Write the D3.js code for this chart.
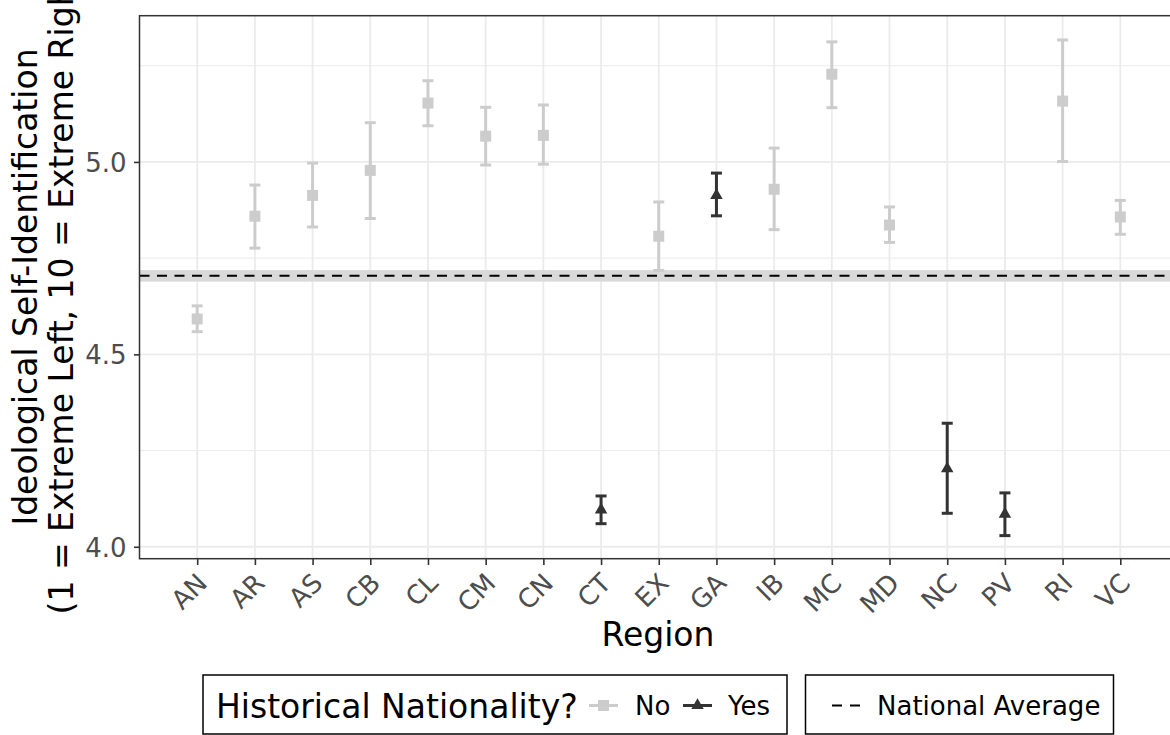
<!DOCTYPE html>
<html>
<head>
<meta charset="utf-8">
<script src="https://cdn.jsdelivr.net/npm/d3@7"></script>
<style>
  body { margin: 0; background: #fff; }
  text { font-family: "DejaVu Sans", sans-serif; }
</style>
</head>
<body>
<div id="chart"></div>
<script>
// chart size
var width = 1170;
var height = 735;

// data
var regions = ["AN","AR","AS","CB","CL","CM","CN","CT","EX","GA","IB","MC","MD","NC","PV","RI","VC"];
var historical = ["No","No","No","No","No","No","No","Yes","No","Yes","No","No","No","Yes","Yes","No","No"];
var means = [4.592,4.859,4.913,4.978,5.153,5.067,5.069,4.096,4.807,4.913,4.929,5.228,4.836,4.203,4.085,5.158,4.857];
var lower = [4.559,4.776,4.831,4.853,5.094,4.992,4.994,4.060,4.718,4.860,4.824,5.141,4.791,4.087,4.029,5.001,4.812];
var upper = [4.626,4.940,4.997,5.102,5.211,5.142,5.148,4.132,4.896,4.971,5.036,5.312,4.883,4.321,4.140,5.317,4.900];
var yTicks = [4.0, 4.5, 5.0];
var yMinor = [4.25, 4.75, 5.25];
var nationalAverage = 4.704;
var nationalBand = [4.689, 4.719];
var groups = ["No", "Yes"];
var groupColors = ["#cccccc", "#333333"];

var rows = regions.map(function(r, i) {
  return {region: r, group: historical[i], mean: means[i], lo: lower[i], hi: upper[i]};
});

// panel (right edge runs past the picture, as in the reference)
var panel = {left: 139.5, top: 15.7, right: 1178, bottom: 558.7};

var x = d3.scalePoint()
  .domain(regions)
  .range([panel.left, panel.right])
  .padding(1);

var y = d3.scaleLinear()
  .domain([3.969, 5.380])
  .range([panel.bottom, panel.top]);

var color = d3.scaleOrdinal().domain(groups).range(groupColors);

const svg = d3.select("#chart")
  .append("svg")
  .attr("width", width)
  .attr("height", height);

svg.append("rect").attr("width", width).attr("height", height).attr("fill", "#fff");

// grid
svg.selectAll("line.minor")
  .data(yMinor)
  .enter()
  .append("line")
  .attr("x1", panel.left).attr("x2", panel.right)
  .attr("y1", d => y(d)).attr("y2", d => y(d))
  .attr("stroke", "#ebebeb")
  .attr("stroke-width", 1);

svg.selectAll("line.hmajor")
  .data(yTicks)
  .enter()
  .append("line")
  .attr("x1", panel.left).attr("x2", panel.right)
  .attr("y1", d => y(d)).attr("y2", d => y(d))
  .attr("stroke", "#ebebeb")
  .attr("stroke-width", 1.8);

svg.selectAll("line.vmajor")
  .data(regions)
  .enter()
  .append("line")
  .attr("x1", d => x(d)).attr("x2", d => x(d))
  .attr("y1", panel.top).attr("y2", panel.bottom)
  .attr("stroke", "#ebebeb")
  .attr("stroke-width", 1.8);

// national average band + dashed line
svg.append("rect")
  .attr("x", panel.left)
  .attr("width", panel.right - panel.left)
  .attr("y", y(nationalBand[1]))
  .attr("height", y(nationalBand[0]) - y(nationalBand[1]))
  .attr("fill", "#d9d9d9");

svg.append("line")
  .attr("x1", panel.left).attr("x2", panel.right)
  .attr("y1", y(nationalAverage)).attr("y2", y(nationalAverage))
  .attr("stroke", "#000")
  .attr("stroke-width", 2)
  .attr("stroke-dasharray", "10,7.5");

// error bars
var capW = 5.5;
var bars = svg.selectAll("g.bar")
  .data(rows)
  .enter()
  .append("g")
  .attr("stroke", d => color(d.group))
  .attr("stroke-width", 3);

bars.append("line")
  .attr("x1", d => x(d.region)).attr("x2", d => x(d.region))
  .attr("y1", d => y(d.hi)).attr("y2", d => y(d.lo));
bars.append("line")
  .attr("x1", d => x(d.region) - capW).attr("x2", d => x(d.region) + capW)
  .attr("y1", d => y(d.hi)).attr("y2", d => y(d.hi));
bars.append("line")
  .attr("x1", d => x(d.region) - capW).attr("x2", d => x(d.region) + capW)
  .attr("y1", d => y(d.lo)).attr("y2", d => y(d.lo));

// point shapes: square for No, triangle for Yes
function shapePath(group, cx, cy) {
  if (group === "No") {
    var s = 5.5;
    return "M" + (cx - s) + "," + (cy - s) + "h" + (2 * s) + "v" + (2 * s) + "h" + (-2 * s) + "Z";
  }
  var side = 12.5, h = side * Math.sqrt(3) / 2;
  return "M" + cx + "," + (cy - 2 * h / 3) +
    "L" + (cx + side / 2) + "," + (cy + h / 3) +
    "L" + (cx - side / 2) + "," + (cy + h / 3) + "Z";
}

svg.selectAll("path.pt")
  .data(rows)
  .enter()
  .append("path")
  .attr("d", d => shapePath(d.group, x(d.region), y(d.mean)))
  .attr("fill", d => color(d.group));

// panel border
svg.append("rect")
  .attr("x", panel.left).attr("y", panel.top)
  .attr("width", panel.right - panel.left)
  .attr("height", panel.bottom - panel.top)
  .attr("fill", "none")
  .attr("stroke", "#333")
  .attr("stroke-width", 1.5);

// axes
var yAxis = svg.append("g")
  .attr("transform", "translate(" + panel.left + ",0)")
  .call(d3.axisLeft(y).tickValues(yTicks).tickFormat(d3.format(".1f")).tickSize(5.5).tickPadding(7.5));
yAxis.select(".domain").remove();
yAxis.selectAll(".tick line").attr("stroke", "#333").attr("stroke-width", 1.6);
yAxis.selectAll(".tick text")
  .attr("fill", "#4d4d4d")
  .style("font-size", "26px")
  .attr("dy", "0.36em");

var xAxis = svg.append("g")
  .attr("transform", "translate(0," + panel.bottom + ")")
  .call(d3.axisBottom(x).tickSize(6.3).tickPadding(0));
xAxis.select(".domain").remove();
xAxis.selectAll(".tick line").attr("stroke", "#333").attr("stroke-width", 1.6);
xAxis.selectAll(".tick text")
  .attr("fill", "#4d4d4d")
  .style("font-size", "26px")
  .attr("text-anchor", "end")
  .attr("dy", null)
  .attr("y", null)
  .attr("transform", "translate(11,26) rotate(-45)");

// axis titles
svg.append("text")
  .attr("x", 658).attr("y", 645.5)
  .attr("text-anchor", "middle")
  .style("font-size", "33px")
  .text("Region");

var yTitle = ["Ideological Self-Identification", "(1 = Extreme Left, 10 = Extreme Right)"];
svg.selectAll("text.ytitle")
  .data(yTitle)
  .enter()
  .append("text")
  .attr("text-anchor", "middle")
  .attr("transform", (d, i) => "translate(" + (37 + i * 35.5) + ",287) rotate(-90)")
  .style("font-size", "33px")
  .text(d => d);

// legend 1: Historical Nationality?
var leg1 = svg.append("g");
leg1.append("rect")
  .attr("x", 203).attr("y", 675).attr("width", 584).attr("height", 59)
  .attr("fill", "#fff").attr("stroke", "#000").attr("stroke-width", 1.5);
leg1.append("text")
  .attr("x", 216).attr("y", 717.5)
  .style("font-size", "33px")
  .text("Historical Nationality?");

var keyX = [603.5, 697.5];
var labelX = [635, 728];
groups.forEach(function(g, i) {
  leg1.append("line")
    .attr("x1", keyX[i] - 14.5).attr("x2", keyX[i] + 14.5)
    .attr("y1", 705.5).attr("y2", 705.5)
    .attr("stroke", color(g)).attr("stroke-width", 3);
  leg1.append("path")
    .attr("d", shapePath(g, keyX[i], 705.5))
    .attr("fill", color(g));
  leg1.append("text")
    .attr("x", labelX[i]).attr("y", 715)
    .style("font-size", "26px")
    .text(g);
});

// legend 2: National Average
var leg2 = svg.append("g");
leg2.append("rect")
  .attr("x", 805.5).attr("y", 675).attr("width", 308).attr("height", 59)
  .attr("fill", "#fff").attr("stroke", "#000").attr("stroke-width", 1.5);
leg2.append("line")
  .attr("x1", 832).attr("x2", 860)
  .attr("y1", 705.5).attr("y2", 705.5)
  .attr("stroke", "#000").attr("stroke-width", 2)
  .attr("stroke-dasharray", "10,8");
leg2.append("text")
  .attr("x", 877).attr("y", 715)
  .style("font-size", "26px")
  .text("National Average");
</script>
</body>
</html>
